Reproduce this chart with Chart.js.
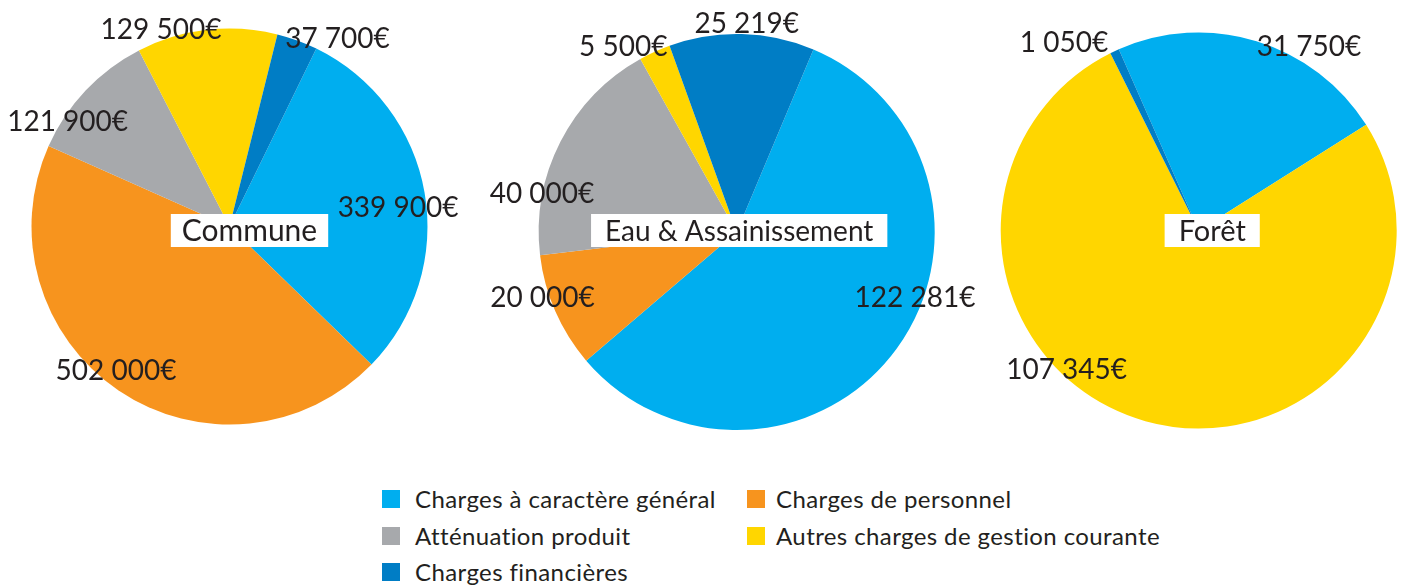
<!DOCTYPE html>
<html>
<head>
<meta charset="utf-8">
<script src="https://cdn.jsdelivr.net/npm/chart.js@4.4.1/dist/chart.umd.min.js"></script>
<style>
  html, body { margin: 0; padding: 0; background: #ffffff; }
  body { width: 1402px; height: 585px; position: relative; overflow: hidden; font-family: Lato, "Open Sans", sans-serif; }
  canvas.pie { position: absolute; left: 0; top: 0; }
  .lg-sq { position: absolute; width: 18px; height: 18px; }
  .lg-tx { position: absolute; font-size: 24px; letter-spacing: 0.4px; color: #231f20; line-height: 18px; white-space: nowrap; }
</style>
</head>
<body>
<canvas id="c0" class="pie" width="1402" height="470"></canvas>
<canvas id="c1" class="pie" width="1402" height="470"></canvas>
<canvas id="c2" class="pie" width="1402" height="470"></canvas>
<div id="legend"></div>
<script>
// ---- data ----
const categories = ["Charges à caractère général", "Charges de personnel", "Atténuation produit", "Autres charges de gestion courante", "Charges financières"];
const pieTitles = ["Commune", "Eau & Assainissement", "Forêt"];
const communeValues = [339900, 502000, 121900, 129500, 37700];
const eauValues = [122281, 20000, 40000, 5500, 25219];
const foretValues = [31750, 0, 0, 107345, 1050];

// ---- style ----
const colors = ["#00AEEF", "#F7941E", "#A7A9AC", "#FFD600", "#007DC5"];
const textColor = "#231f20";
const W = 1402, H = 470, R = 198;
const pieStyles = [
  { cx: 229.5, cy: 226.5, rotation: 26, titleDx: 20, titleY: 230.5, titleSize: 30, titlePad: 11,
    labelOffsets: [[-26.5, 14.5], [-2.5, -20.5], [-18, 30.4], [-45.7, -0.8], [40.3, -2.9]] },
  { cx: 736.7, cy: 232, rotation: 22.8, titleDx: 2.5, titleY: 230.5, titleSize: 28, titlePad: 14,
    labelOffsets: [[18.4, -51.8], [-12.8, -14.4], [-18.4, 51.1], [-31.4, -6.3], [4.9, -11.4]] },
  { cx: 1198.7, cy: 230.5, rotation: -23.8, titleDx: 13.5, titleY: 230.5, titleSize: 29, titlePad: 14,
    labelOffsets: [[52.5, 4.9], [0, 0], [0, 0], [-78.7, -52.2], [-50.5, -9.3]] }
];
const seriesList = [communeValues, eauValues, foretValues];

function fmt(v) {
  return String(v).replace(/\B(?=(\d{3})+(?!\d))/g, "\u00a0") + "€";
}

const labelPlugin = {
  id: 'pieLabels',
  afterDatasetsDraw(chart, args, opts) {
    const ctx = chart.ctx;
    const st = opts.style;
    const meta = chart.getDatasetMeta(0);
    const values = chart.data.datasets[0].data;
    ctx.save();
    // value labels
    ctx.font = '28px Lato, "Open Sans", sans-serif';
    ctx.fillStyle = textColor;
    ctx.textAlign = 'center';
    ctx.textBaseline = 'middle';
    meta.data.forEach((arc, i) => {
      if (!values[i]) return;
      const p = arc.getProps(['x', 'y', 'startAngle', 'endAngle', 'outerRadius'], true);
      const mid = (p.startAngle + p.endAngle) / 2;
      const off = st.labelOffsets[i];
      const x = p.x + Math.cos(mid) * p.outerRadius + off[0];
      const y = p.y + Math.sin(mid) * p.outerRadius + off[1];
      ctx.fillText(fmt(values[i]), x, y + 1);
    });
    // centre title box
    const a0 = meta.data[0].getProps(['x', 'y'], true);
    ctx.font = st.titleSize + 'px Lato, "Open Sans", sans-serif';
    const tw = ctx.measureText(opts.title).width;
    const bx = a0.x + st.titleDx;
    const by = st.titleY;
    ctx.fillStyle = '#ffffff';
    ctx.fillRect(bx - tw / 2 - st.titlePad, by - 16.5, tw + 2 * st.titlePad, 33);
    ctx.fillStyle = textColor;
    ctx.fillText(opts.title, bx, by + 1);
    ctx.restore();
  }
};

seriesList.forEach((vals, k) => {
  const st = pieStyles[k];
  new Chart(document.getElementById('c' + k), {
    type: 'pie',
    data: {
      labels: categories,
      datasets: [{ data: vals, backgroundColor: colors, borderWidth: 0 }]
    },
    options: {
      responsive: false,
      animation: false,
      rotation: st.rotation,
      layout: { padding: { left: st.cx - R, top: st.cy - R, right: W - st.cx - R, bottom: H - st.cy - R } },
      plugins: {
        legend: { display: false },
        tooltip: { enabled: false },
        pieLabels: { style: st, title: pieTitles[k] }
      }
    },
    plugins: [labelPlugin]
  });
});

// ---- legend ----
const legendCols = [{ sq: 382, tx: 415 }, { sq: 747, tx: 776 }];
const legendRows = [490, 527, 563];
const lg = document.getElementById('legend');
categories.forEach((name, i) => {
  const col = legendCols[i % 2], row = legendRows[Math.floor(i / 2)];
  const sq = document.createElement('div');
  sq.className = 'lg-sq';
  sq.style.left = col.sq + 'px'; sq.style.top = row + 'px';
  sq.style.background = colors[i];
  const tx = document.createElement('div');
  tx.className = 'lg-tx';
  tx.style.left = col.tx + 'px'; tx.style.top = row + 'px';
  tx.textContent = name;
  lg.appendChild(sq); lg.appendChild(tx);
});
</script>
</body>
</html>
